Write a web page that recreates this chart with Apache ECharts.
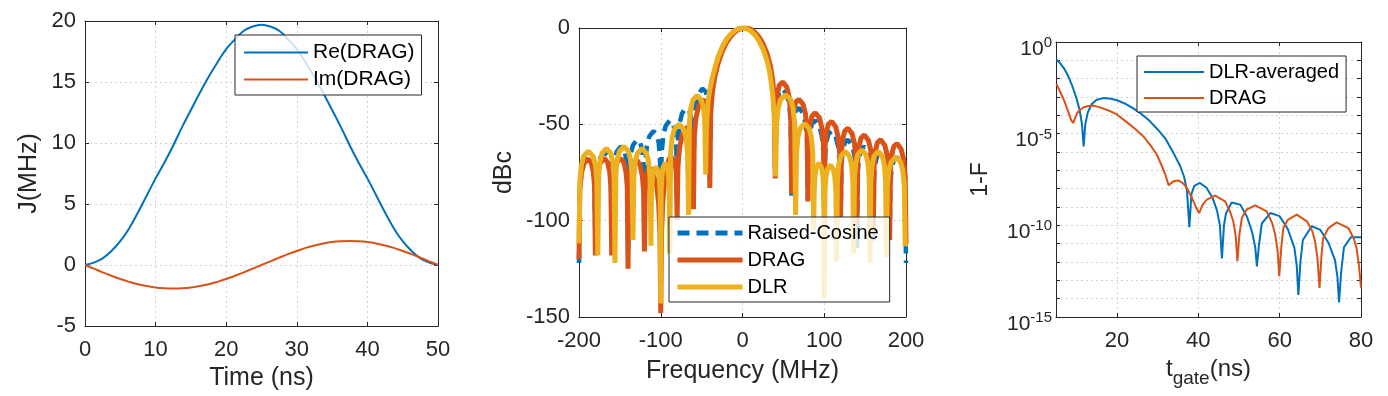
<!DOCTYPE html>
<html>
<head>
<meta charset="utf-8">
<title>DRAG / DLR pulses</title>
<script src="https://cdn.jsdelivr.net/npm/echarts@6/dist/echarts.min.js"></script>
<style>
  html, body { margin: 0; padding: 0; background: #fff; }
  #chart { width: 1388px; height: 396px; }
</style>
</head>
<body>
<div id="chart"></div>
<script>
	// ---- left panel: pulse envelope J(t) ----
	var timeNs = [0, 1.25, 2.5, 3.75, 5, 6.25, 7.5, 8.75, 10, 11.25, 12.5, 13.75, 15, 16.25, 17.5, 18.75, 20, 21.25, 22.5, 23.75,
		25, 26.25, 27.5, 28.75, 30, 31.25, 32.5, 33.75, 35, 36.25, 37.5, 38.75, 40, 41.25, 42.5, 43.75, 45, 46.25, 47.5, 48.75, 50];
	var reDrag = [0, 0.2, 0.55, 1.15, 1.95, 3.0, 4.3, 5.7, 7.1, 8.4, 9.8, 11.3, 12.7, 14.1, 15.4, 16.6, 17.7, 18.5, 19.2, 19.55,
		19.7, 19.55, 19.2, 18.5, 17.7, 16.6, 15.4, 14.1, 12.7, 11.3, 9.8, 8.4, 7.1, 5.7, 4.3, 3.0, 1.95, 1.15, 0.55, 0.2, 0];
	var imDrag = [0, -0.3, -0.6, -0.88, -1.15, -1.38, -1.58, -1.73, -1.85, -1.91, -1.93, -1.91, -1.85, -1.73, -1.58, -1.38, -1.15, -0.88, -0.6, -0.3,
		0, 0.3, 0.6, 0.89, 1.15, 1.4, 1.6, 1.76, 1.88, 1.94, 1.96, 1.94, 1.88, 1.76, 1.6, 1.4, 1.15, 0.89, 0.6, 0.3, 0];

	// ---- middle panel: spectra [MHz, dBc] ----
	var rcSpectrum = [
		[-200,-122],[-199,-84],[-197,-75],[-194,-69.8],[-189,-67],[-185,-68.5],[-182.5,-73],[-181,-80],[-180,-108],
		[-179,-81.5],[-177,-72.5],[-174,-67.3],[-169,-64.5],[-165,-66],[-162.5,-70.5],[-161,-77.5],[-160,-112],
		[-159,-78.5],[-157,-69.5],[-154,-64.3],[-149,-61.5],[-145,-63],[-142.5,-67.5],[-141,-74.5],[-140,-114],
		[-139,-75],[-137,-66],[-134,-60.8],[-129,-58],[-125,-59.5],[-122.5,-64],[-121,-71],[-120,-98],
		[-119,-70.5],[-117,-61.5],[-114,-56.3],[-109,-53.5],[-105,-55],[-102.5,-59.5],[-101,-66.5],[-100,-95],
		[-99,-65],[-97,-56],[-94,-50.8],[-89,-48],[-85,-49.5],[-82.5,-54],[-81,-61],[-80,-89],
		[-79,-58.5],[-77,-49.5],[-74,-44.3],[-69,-41.5],[-65,-43],[-62.5,-47.5],[-61,-54.5],[-60,-87],
		[-59,-48.5],[-57,-39.5],[-54,-34.3],[-49,-31.5],[-45,-33],[-42.5,-37.5],[-41,-44.5],[-40,-78],
		[-39,-40.8],[-37,-29.8],[-34,-21.9],[-30,-15.4],[-25,-9.9],[-20,-6],[-15,-3.3],[-10,-1.4],[-5,-0.4],[0,0],
		[5,-0.4],[10,-1.4],[15,-3.3],[20,-6],[25,-9.9],[30,-15.4],[34,-21.9],[37,-29.8],[39,-40.8],[40,-78],
		[41,-44.5],[42.5,-37.5],[45,-33],[49,-31.5],[54,-34.3],[57,-39.5],[59,-48.5],[60,-87],
		[61,-54.5],[62.5,-47.5],[65,-43],[69,-41.5],[74,-44.3],[77,-49.5],[79,-58.5],[80,-89],
		[81,-61],[82.5,-54],[85,-49.5],[89,-48],[94,-50.8],[97,-56],[99,-65],[100,-95],
		[101,-66.5],[102.5,-59.5],[105,-55],[109,-53.5],[114,-56.3],[117,-61.5],[119,-70.5],[120,-98],
		[121,-71],[122.5,-64],[125,-59.5],[129,-58],[134,-60.8],[137,-66],[139,-75],[140,-114],
		[141,-74.5],[142.5,-67.5],[145,-63],[149,-61.5],[154,-64.3],[157,-69.5],[159,-78.5],[160,-112],
		[161,-77.5],[162.5,-70.5],[165,-66],[169,-64.5],[174,-67.3],[177,-72.5],[179,-81.5],[180,-108],
		[181,-80],[182.5,-73],[185,-68.5],[189,-67],[194,-69.8],[197,-75],[199,-84],[200,-122]
	];
	var dragSpectrum = [
		[-200,-120],[-199,-84.1],[-197,-75.3],[-194,-70.3],[-189,-68],[-185,-69.9],[-182.5,-74.7],[-181,-81.8],[-180,-118],
		[-179,-83.6],[-177,-74.8],[-174,-69.9],[-169,-67.7],[-165,-69.7],[-162.5,-74.6],[-161,-81.8],[-160,-118],
		[-159,-83.1],[-157,-74.4],[-154,-69.7],[-149,-67.7],[-145,-69.9],[-142.5,-74.9],[-141,-82.2],[-140,-125],
		[-139,-83.2],[-137,-74.6],[-134,-70.2],[-129,-68.7],[-125,-71.5],[-122.5,-77],[-121,-84.6],[-120,-116],
		[-119,-85],[-117.5,-76.7],[-115,-73.1],[-112,-72.7],[-110,-73.6],[-105,-81.6],[-102.5,-91.6],[-101,-106.6],[-100,-148],
		[-99,-106],[-97.5,-90],[-95,-78.4],[-90,-68],[-87,-67],[-85,-66],[-82.5,-69.1],[-81,-75.4],[-80,-99.6],
		[-79,-72.1],[-77,-62.2],[-74,-56],[-69,-51.7],[-65,-52.1],[-62.5,-56],[-61,-62.7],[-60,-94],
		[-59,-56.2],[-57,-46.8],[-54,-41],[-49,-37.3],[-45,-38.2],[-42.5,-42.3],[-41,-49.1],[-40,-83],
		[-39,-45.1],[-37,-33.8],[-34,-25.5],[-30,-18.5],[-25,-12.4],[-20,-7.9],[-15,-4.7],[-10,-2.3],[-5,-0.8],[0,-0.1],
		[5,0],[10,-0.6],[15,-2.2],[20,-4.5],[25,-8.1],[30,-13.2],[34,-19.4],[37,-27.2],[39,-38],[40,-78],
		[41,-41.5],[42.5,-34.4],[45,-29.8],[49,-28],[54,-30.5],[57,-35.6],[59,-44.5],[60,-86],
		[61,-50.4],[62.5,-43.3],[65,-38.6],[69,-37],[74,-39.5],[77,-44.5],[79,-53.4],[80,-90],
		[81,-57.3],[82.5,-50.3],[85,-45.7],[89,-44],[94,-46.5],[97,-51.6],[99,-60.5],[100,-93],
		[101,-61.5],[102.5,-54.5],[105,-50],[109,-48.5],[114,-51.3],[117,-56.5],[119,-65.5],[120,-98],
		[121,-65],[122.5,-58],[125,-53.5],[129,-52],[134,-54.8],[137,-60],[139,-69],[140,-102],
		[141,-68.5],[142.5,-61.5],[145,-57],[149,-55.5],[154,-58.3],[157,-63.5],[159,-72.5],[160,-106],
		[161,-71],[162.5,-64],[165,-59.5],[169,-58],[174,-60.8],[177,-66],[179,-75],[180,-110],
		[181,-73],[182.5,-66],[185,-61.5],[189,-60],[194,-62.8],[197,-68],[199,-77],[200,-112]
	];
	var dlrSpectrum = [
		[-200,-111.7],[-198.9,-79],[-197.1,-71],[-194.3,-66.5],[-188.5,-64],[-182.8,-66.5],[-179.9,-71],[-178.2,-79],[-177,-118],
		[-176,-77.5],[-174.4,-69.5],[-171.8,-65],[-166.5,-62.5],[-161.3,-65],[-158.6,-69.5],[-157.1,-77.5],[-156,-122],
		[-154.9,-76.5],[-153.3,-68.5],[-150.5,-64],[-145,-61.5],[-139.5,-64],[-136.8,-68.5],[-135.1,-76.5],[-134,-110],
		[-132.9,-77.5],[-131.3,-69.5],[-128.5,-65],[-123,-62.5],[-117.5,-65],[-114.8,-69.5],[-113.1,-77.5],[-112,-113],
		[-111.4,-87],[-110.5,-79],[-109,-74.5],[-106,-72],[-103,-74.5],[-101.5,-79],[-100.6,-87],[-100,-143],
		[-99.5,-85],[-98.6,-77],[-97.3,-72.5],[-94.5,-70],[-91.8,-72.5],[-90.4,-77],[-89.6,-85],[-89,-117],
		[-87.9,-65],[-86.1,-57],[-83.3,-52.5],[-77.5,-50],[-71.8,-52.5],[-68.9,-57],[-67.2,-65],[-66,-97],
		[-65,-50],[-63.4,-42],[-60.8,-37.5],[-55.5,-35],[-50.3,-37.5],[-47.6,-42],[-46.1,-50],[-45,-76],
		[-44.3,-55],[-43.5,-47],[-42,-38],[-40,-32],[-37,-26],[-33,-19.5],[-30,-15.5],[-25,-10],[-20,-6.2],[-15,-3.4],[-10,-1.5],[-5,-0.4],[0,0],
		[5,-0.4],[10,-1.5],[15,-3.5],[20,-6.5],[25,-10.8],[30,-17],[33,-22.5],[35,-28],[37,-35],[38.5,-44],[39.5,-55],[40.5,-77],
		[41.7,-49.7],[43.6,-41.7],[46.6,-37.2],[52.8,-34.7],[58.9,-37.2],[61.9,-41.7],[63.8,-49.7],[65,-97],
		[66.1,-64.7],[67.8,-56.7],[70.5,-52.2],[76,-49.7],[81.5,-52.2],[84.3,-56.7],[85.9,-64.7],[87,-105],
		[87.7,-85],[88.6,-77],[90.3,-72.5],[93.5,-70],[96.8,-72.5],[98.4,-77],[99.4,-85],[100,-140],
		[100.8,-86],[101.9,-78],[103.8,-73.5],[107.5,-71],[111.3,-73.5],[113.1,-78],[114.3,-86],[115,-121],
		[116.1,-79],[117.6,-71],[120.3,-66.5],[125.5,-64],[130.8,-66.5],[133.4,-71],[135,-79],[136,-117],
		[137,-78.2],[138.5,-70.2],[141,-65.7],[146,-63.2],[151,-65.7],[153.5,-70.2],[155,-78.2],[156,-122],
		[157,-79],[158.5,-71],[161,-66.5],[166,-64],[171,-66.5],[173.5,-71],[175,-79],[176,-119],
		[177.2,-82],[178.9,-74],[181.8,-69.5],[187.5,-67],[193.3,-69.5],[196.1,-74],[197.9,-82],[199,-113],[200,-112]
	];

	// ---- right panel: infidelity vs gate time, [ns, log10(1-F)] ----
	var dlrAvgInfid = [
		[5.1,-0.97],[6,-1.15],[7,-1.45],[8,-1.85],[9,-2.4],[10,-3.05],[10.8,-3.7],[11.4,-4.5],[11.8,-5.7],[12.2,-4.5],
		[12.8,-3.85],[13.8,-3.38],[15,-3.15],[16.7,-3.06],[18.5,-3.1],[20,-3.18],[22,-3.36],[24,-3.62],[26,-3.93],[28,-4.3],
		[30,-4.77],[32,-5.3],[34,-6.1],[35.5,-6.75],[36.5,-7.35],[37.2,-8.1],[37.8,-10.1],[38.3,-8.3],[39,-7.85],[40.4,-7.69],
		[42,-7.95],[43.5,-8.5],[44.6,-9.2],[45.3,-10],[45.8,-11.8],[46.3,-10],[46.8,-9.35],[48.2,-8.75],[50.3,-8.87],[52,-9.55],
		[53.2,-10.35],[54,-11.2],[54.4,-12.24],[54.9,-11.1],[55.6,-9.9],[57.7,-9.33],[60,-9.5],[62,-10.2],[63.6,-11.2],[64.2,-12.2],
		[64.6,-13.8],[65.1,-12],[65.7,-10.8],[67.9,-10.05],[70,-10.25],[72,-10.95],[73.6,-11.9],[74.2,-12.8],[74.6,-14.2],[75.1,-12.6],
		[75.8,-11.2],[77.5,-10.65],[80,-10.65]
	];
	var dragInfid = [
		[5.1,-2.29],[6,-2.7],[7,-3.2],[8,-3.8],[8.7,-4.25],[9.2,-4.42],[9.7,-4.15],[10.2,-3.87],[11,-3.68],[11.8,-3.56],
		[13,-3.49],[14.3,-3.47],[16,-3.58],[18.4,-3.78],[20,-3.95],[22.4,-4.37],[24.5,-4.75],[26.5,-5.15],[28.3,-5.65],[29.8,-6.15],
		[31,-6.75],[31.9,-7.24],[32.7,-7.82],[33.3,-7.7],[33.9,-7.6],[35.1,-7.55],[36.2,-7.7],[37.2,-7.96],[38.2,-8.4],[38.8,-8.69],
		[39.6,-9.1],[40.2,-9.33],[40.8,-9.0],[41.3,-8.8],[42.1,-8.6],[44.1,-8.38],[46.6,-8.69],[47.8,-9.25],[48.6,-9.78],[49.2,-10.6],
		[49.6,-11.96],[50.1,-10.5],[50.7,-9.6],[51.8,-9.15],[54,-8.91],[56.8,-9.24],[58.2,-9.9],[58.9,-10.51],[59.5,-11.4],[59.9,-12.78],
		[60.4,-11.2],[60.9,-10.15],[62,-9.7],[64.2,-9.42],[66.7,-9.78],[68,-10.3],[68.7,-10.87],[69.3,-11.8],[69.8,-13.42],[70.3,-11.6],
		[70.7,-10.69],[72,-10.15],[74,-9.84],[76.9,-10.15],[78.2,-10.7],[78.9,-11.24],[79.5,-12.2],[80,-13.4]
	];

	var AXIS = '#262626';
	var FONT = 'Liberation Sans, Arial, sans-serif';
	var BLUE = '#0072BD', ORANGE = '#D95319', YELLOW = '#EDB120';

	function zip(xs, ys) {
		var out = [];
		for (var i = 0; i < xs.length; i++) out.push([xs[i], ys[i]]);
		return out;
	}

	function tickLabel(margin, more) {
		var l = { color: AXIS, fontFamily: FONT, fontSize: 22, margin: margin };
		if (more) for (var k in more) l[k] = more[k];
		return l;
	}

	// one axis of the boxed frame; the top/right ones only carry inward ticks
	function axis(grid, pos, min, max, step, more) {
		var main = (pos === 'bottom' || pos === 'left');
		var a = {
			type: 'value', gridIndex: grid, position: pos, min: min, max: max,
			axisLine: { show: true, onZero: false, lineStyle: { color: AXIS, width: 1 } },
			axisTick: { show: true, inside: true, length: 4, lineStyle: { color: AXIS } },
			axisLabel: { show: main, color: AXIS, fontFamily: FONT, fontSize: 22, margin: 10 },
			splitLine: { show: main, lineStyle: { color: '#d2d2d2', type: [2, 3], width: 1 } },
			nameTextStyle: { color: AXIS, fontFamily: FONT, fontSize: 25 },
			nameLocation: 'middle'
		};
		if (step != null) a.interval = step;
		if (more) for (var k in more) a[k] = more[k];
		return a;
	}

	function legend(more) {
		var l = {
			orient: 'vertical', borderColor: AXIS, borderWidth: 1, borderRadius: 0,
			backgroundColor: 'rgba(255,255,255,0.8)',
			// line icons only, no marker dot
			itemStyle: { color: 'rgba(0,0,0,0)', borderWidth: 0, opacity: 0 }
		};
		for (var k in more) l[k] = more[k];
		return l;
	}

	var chart = echarts.init(document.getElementById('chart'));
	var option = {
		animation: false,
		backgroundColor: '#fff',
		textStyle: { fontFamily: FONT },
		grid: [
			{ left: 85, top: 21, width: 353, height: 306 },
			{ left: 579, top: 28, width: 327, height: 289 },
			{ left: 1056, top: 42, width: 305, height: 275 }
		],
		xAxis: [
			axis(0, 'bottom', 0, 50, 10, { name: 'Time (ns)', nameGap: 40, axisLabel: tickLabel(13) }),
			axis(0, 'top', 0, 50, 10),
			axis(1, 'bottom', -200, 200, 100, { name: 'Frequency (MHz)', nameGap: 42, axisLabel: tickLabel(13) }),
			axis(1, 'top', -200, 200, 100),
			axis(2, 'bottom', 5, 80, null, {
				minInterval: 20, maxInterval: 20,
				name: '{t|t}{sub|gate}{t|(ns)}', nameGap: 32,
				nameTextStyle: { color: AXIS, fontFamily: FONT, rich: {
					t: { fontSize: 24, fontFamily: FONT, color: AXIS },
					sub: { fontSize: 19, fontFamily: FONT, color: AXIS, padding: [20, 0, 0, 0] }
				} },
				axisLabel: tickLabel(13, { formatter: function (v) { return v === 5 ? '' : v; } })
			}),
			axis(2, 'top', 5, 80, null, { minInterval: 20, maxInterval: 20 })
		],
		yAxis: [
			axis(0, 'left', -5, 20, 5, { name: 'J(MHz)', nameGap: 43, axisLabel: tickLabel(9) }),
			axis(0, 'right', -5, 20, 5),
			axis(1, 'left', -150, 0, 50, { name: 'dBc', nameGap: 62, axisLabel: tickLabel(9) }),
			axis(1, 'right', -150, 0, 50),
			axis(2, 'left', -15, 0, 1, {
				name: '1-F', nameGap: 64,
				nameTextStyle: { color: AXIS, fontFamily: FONT, fontSize: 23 },
				axisLabel: {
					color: AXIS, fontFamily: FONT, margin: 4,
					formatter: function (v) { return v % 5 === 0 ? '{b|10}{s|' + v + '}' : ''; },
					rich: {
						b: { fontSize: 21, fontFamily: FONT, color: AXIS, padding: [14, 0, 0, 0] },
						s: { fontSize: 15, fontFamily: FONT, color: AXIS, padding: [2, 0, 0, 0] }
					}
				}
			}),
			axis(2, 'right', -15, 0, 1)
		],
		legend: [
			legend({ left: 235, top: 35, padding: [7, 7, 5, 8], itemGap: 6, itemWidth: 64, itemHeight: 14,
				data: ['Re(DRAG)', 'Im(DRAG)'], textStyle: { color: '#000', fontFamily: FONT, fontSize: 21 } }),
			legend({ left: 669, top: 217, padding: [6, 11, 5, 6], itemGap: 7, itemWidth: 65, itemHeight: 14,
				lineStyle: { width: 5 },
				data: ['Raised-Cosine', 'DRAG', 'DLR'], textStyle: { color: '#000', fontFamily: FONT, fontSize: 20 } }),
			legend({ left: 1137, top: 56, padding: [6, 7, 4, 6], itemGap: 6, itemWidth: 60, itemHeight: 14,
				data: ['DLR-averaged', 'DRAG '], formatter: function (n) { return n.trim(); },
				textStyle: { color: '#000', fontFamily: FONT, fontSize: 20 } })
		],
		series: [
			{ name: 'Re(DRAG)', type: 'line', xAxisIndex: 0, yAxisIndex: 0, data: zip(timeNs, reDrag), smooth: 0.4,
				symbol: 'none', itemStyle: { color: BLUE }, lineStyle: { color: BLUE, width: 2 } },
			{ name: 'Im(DRAG)', type: 'line', xAxisIndex: 0, yAxisIndex: 0, data: zip(timeNs, imDrag), smooth: 0.4,
				symbol: 'none', itemStyle: { color: ORANGE }, lineStyle: { color: ORANGE, width: 2 } },

			{ name: 'Raised-Cosine', type: 'line', xAxisIndex: 2, yAxisIndex: 2, data: rcSpectrum,
				symbol: 'none', itemStyle: { color: BLUE }, lineStyle: { color: BLUE, width: 4.5, type: [12, 7] } },
			{ name: 'DRAG', type: 'line', xAxisIndex: 2, yAxisIndex: 2, data: dragSpectrum,
				symbol: 'none', itemStyle: { color: ORANGE }, lineStyle: { color: ORANGE, width: 5 } },
			{ name: 'DLR', type: 'line', xAxisIndex: 2, yAxisIndex: 2, data: dlrSpectrum,
				symbol: 'none', itemStyle: { color: YELLOW }, lineStyle: { color: YELLOW, width: 5 } },

			{ name: 'DLR-averaged', type: 'line', xAxisIndex: 4, yAxisIndex: 4, data: dlrAvgInfid,
				symbol: 'none', itemStyle: { color: BLUE }, lineStyle: { color: BLUE, width: 2 } },
			{ name: 'DRAG ', type: 'line', xAxisIndex: 4, yAxisIndex: 4, data: dragInfid,
				symbol: 'none', itemStyle: { color: ORANGE }, lineStyle: { color: ORANGE, width: 2 } }
		]
	};
	chart.setOption(option);
</script>
</body>
</html>
